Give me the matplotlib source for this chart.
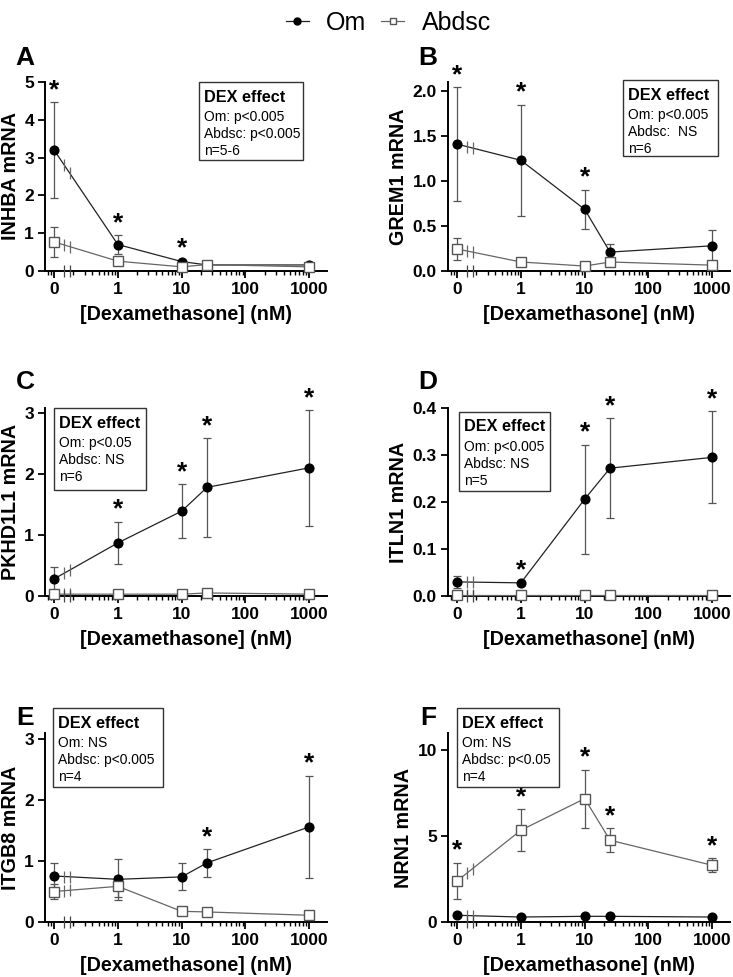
import numpy as np
import matplotlib
matplotlib.use('Agg')
import matplotlib.pyplot as plt
from matplotlib.patches import Rectangle
from matplotlib.lines import Line2D

plt.rcParams['font.family'] = ['Liberation Sans', 'DejaVu Sans']

# dexamethasone concentrations (nM); 0 is drawn one decade below 1
conc = [0, 1, 10, 25, 1000]

genes = ['INHBA', 'GREM1', 'PKHD1L1', 'ITLN1', 'ITGB8', 'NRN1']
letters = ['A', 'B', 'C', 'D', 'E', 'F']

om_mean = [
    [3.20, 0.70, 0.25, 0.16, 0.16],
    [1.41, 1.23, 0.685, 0.21, 0.28],
    [0.28, 0.87, 1.39, 1.78, 2.10],
    [0.030, 0.028, 0.206, 0.272, 0.295],
    [0.755, 0.70, 0.74, 0.97, 1.56],
    [0.39, 0.29, 0.33, 0.33, 0.29],
]
om_err = [
    [1.26, 0.24, 0.03, 0.03, 0.03],
    [0.63, 0.62, 0.22, 0.09, 0.18],
    [0.20, 0.35, 0.44, 0.81, 0.95],
    [0.012, 0.002, 0.116, 0.106, 0.098],
    [0.22, 0.34, 0.22, 0.23, 0.84],
    [0.05, 0.05, 0.05, 0.05, 0.05],
]
abd_mean = [
    [0.77, 0.26, 0.11, 0.17, 0.11],
    [0.245, 0.10, 0.055, 0.10, 0.065],
    [0.03, 0.03, 0.03, 0.05, 0.03],
    [0.002, 0.002, 0.002, 0.002, 0.002],
    [0.50, 0.585, 0.175, 0.165, 0.11],
    [2.39, 5.34, 7.18, 4.76, 3.30],
]
abd_err = [
    [0.40, 0.04, 0.02, 0.03, 0.02],
    [0.125, 0.02, 0.01, 0.02, 0.02],
    [0.02, 0.01, 0.01, 0.01, 0.01],
    [0.001, 0.001, 0.001, 0.001, 0.001],
    [0.12, 0.17, 0.02, 0.02, 0.02],
    [1.06, 1.21, 1.68, 0.70, 0.41],
]

# which series carries the stars, and at which concentrations
star_series = ['om', 'om', 'om', 'om', 'om', 'abd']
star_conc = [[0, 1, 10], [0, 1, 10], [1, 10, 25, 1000], [1, 10, 25, 1000],
             [25, 1000], [0, 1, 10, 25, 1000]]

box_lines = [
    ['Om: p<0.005', 'Abdsc: p<0.005', 'n=5-6'],
    ['Om: p<0.005', 'Abdsc:  NS', 'n=6'],
    ['Om: p<0.05', 'Abdsc: NS', 'n=6'],
    ['Om: p<0.005', 'Abdsc: NS', 'n=5'],
    ['Om: NS', 'Abdsc: p<0.005', 'n=4'],
    ['Om: NS', 'Abdsc: p<0.05', 'n=4'],
]

ylims = [5, 2.1, 3.08, 0.4, 3.1, 11]
yticks = [np.arange(0, 5.1, 1), np.arange(0, 2.01, 0.5), np.arange(0, 3.1, 1),
          np.arange(0, 0.41, 0.1), np.arange(0, 3.1, 1), [0, 5, 10]]
yfmt = ['%d', '%.1f', '%d', '%.1f', '%d', '%d']

# box (left, top, width, height) in axes fraction
boxes = [(0.546, 1.0, 0.37, 0.413), (0.62, 1.01, 0.337, 0.40),
         (0.032, 1.0, 0.326, 0.436), (0.04, 0.98, 0.323, 0.42),
         (0.03, 1.13, 0.387, 0.418), (0.032, 1.13, 0.362, 0.418)]

W, H = 733, 977
fig = plt.figure(figsize=(W / 100, H / 100), dpi=100)

col_x = [45, 448]
row_y = [(82, 271), (408, 596), (733, 922)]
letter_pos = [(25, 58), (428, 58), (25, 382), (428, 382), (25, 718), (428, 718)]

om_c = '#222222'
abd_c = '#666666'
err_c = '#555555'
xb = [0.145, 0.175]


def xpos(c):
    return [0.1 if v == 0 else v for v in c]


for i in range(6):
    r, cidx = divmod(i, 2)
    top, bot = row_y[r]
    ax = fig.add_axes([col_x[cidx] / W, 1 - bot / H, 282 / W, (bot - top) / H])
    x = np.array(xpos(conc), dtype=float)

    for mean, err, mk, fc, lc in [(om_mean[i], om_err[i], 'o', 'black', om_c),
                                  (abd_mean[i], abd_err[i], 's', 'white', abd_c)]:
        ax.errorbar(x, mean, yerr=err, fmt='none', ecolor=err_c, elinewidth=0.9,
                    capsize=3, capthick=0.9, zorder=2)
        ax.plot(x, mean, '-', color=lc, lw=0.9, marker=mk, ms=6.3 if mk == 'o' else 6.5,
                mfc=fc, mec='black' if mk == 'o' else '#555555', mew=1.0, zorder=3,
                clip_on=False)
        # axis break marks on the line between 0 and 1
        yb = np.interp(np.log10(xb), np.log10(x[:2]), mean[:2])
        ax.plot(xb, yb, ls='none', marker='|', ms=9, mew=0.9, color='#666666', zorder=4)

    ax.plot(xb, [0, 0], ls='none', marker='|', ms=9, mew=0.9, color='#444444',
            clip_on=False, zorder=5)

    # stars
    if star_series[i] == 'om':
        sm, se = om_mean[i], om_err[i]
    else:
        sm, se = abd_mean[i], abd_err[i]
    for c in star_conc[i]:
        k = conc.index(c)
        ax.annotate('*', xy=(x[k], sm[k] + se[k]), xytext=(0, 0), textcoords='offset pixels',
                    ha='center', va='bottom', fontsize=19, fontweight='bold',
                    annotation_clip=False)

    ax.set_xscale('log')
    ax.set_xlim(0.072, 1900)
    ax.set_xticks([0.1, 1, 10, 100, 1000])
    ax.set_xticklabels(['0', '1', '10', '100', '1000'])
    ax.set_ylim(0, ylims[i])
    ax.set_yticks(yticks[i])
    ax.set_yticklabels([yfmt[i] % v for v in yticks[i]])
    ax.spines['top'].set_visible(False)
    ax.spines['right'].set_visible(False)
    for s in ['left', 'bottom']:
        ax.spines[s].set_linewidth(1.4)
    ax.tick_params(which='major', length=5, width=1.3, labelsize=12.5, pad=3)
    ax.tick_params(which='minor', length=3, width=1.0)
    for lab in ax.get_xticklabels() + ax.get_yticklabels():
        lab.set_fontweight('bold')
    ax.set_xlabel('[Dexamethasone] (nM)', fontsize=14.2, fontweight='bold', labelpad=6)
    ax.set_ylabel(genes[i] + ' mRNA', fontsize=14.2, fontweight='bold', labelpad=3)

    # DEX effect box
    bl, bt, bw, bh = boxes[i]
    ax.add_patch(Rectangle((bl, bt - bh), bw, bh, transform=ax.transAxes, fill=False,
                           ec='#333333', lw=1.0, clip_on=False, zorder=6))
    ax.annotate('DEX effect', xy=(bl, bt), xycoords='axes fraction', xytext=(5, -15),
                textcoords='offset pixels', ha='left', va='center', fontsize=11.7,
                fontweight='bold')
    for j, t in enumerate(box_lines[i]):
        ax.annotate(t, xy=(bl, bt), xycoords='axes fraction', xytext=(5, -35 - 17 * j),
                    textcoords='offset pixels', ha='left', va='center', fontsize=10)

    lx, ly = letter_pos[i]
    fig.text(lx / W, 1 - ly / H, letters[i], fontsize=19, fontweight='bold',
             ha='center', va='center')

handles = [Line2D([], [], color=om_c, lw=0.9, marker='o', ms=5, mfc='black', mec='black'),
           Line2D([], [], color=abd_c, lw=0.9, marker='s', ms=5, mfc='white', mec='#555555')]
fig.legend(handles, ['Om', 'Abdsc'], loc='upper center', bbox_to_anchor=(0.53, 1.012),
           ncol=2, frameon=False, fontsize=18, handlelength=0.9, handletextpad=0.7,
           columnspacing=0.6)

fig.savefig('out.png', dpi=100)
